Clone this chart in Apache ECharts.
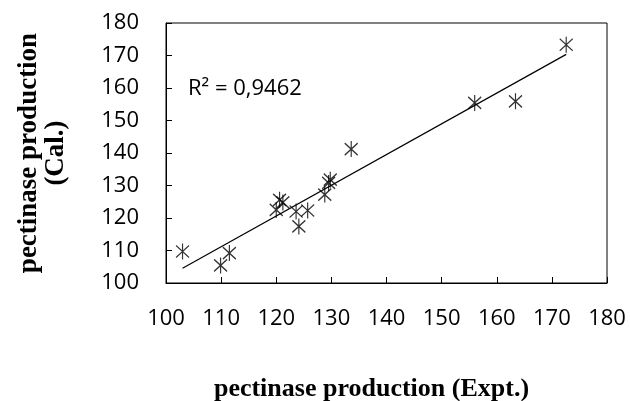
<!DOCTYPE html>
<html>
<head>
<meta charset="utf-8">
<script src="https://cdn.jsdelivr.net/npm/echarts@6/dist/echarts.min.js"></script>
<style>html,body{margin:0;padding:0;background:#fff}#c{width:630px;height:401px}</style>
</head>
<body>
<div id="c"></div>
<script>
// Experimental (x) vs calculated (y) pectinase production
var exptValues = [103.0, 109.9, 111.5, 120.0, 120.6, 121.2, 123.6, 125.7, 124.1, 128.8, 129.8, 129.5, 133.6, 156.0, 163.4, 172.6];
var calValues  = [109.7, 105.4, 109.2, 122.5, 125.6, 124.8, 122.0, 122.3, 117.4, 127.2, 131.8, 130.8, 141.2, 155.4, 155.9, 173.3];
var xTicks = [100, 110, 120, 130, 140, 150, 160, 170, 180];
var yTicks = [100, 110, 120, 130, 140, 150, 160, 170, 180];
var r2Label = 'R² = 0,9462';
var xTitle = 'pectinase production (Expt.)';
var yTitle = 'pectinase production\n(Cal.)';

var points = exptValues.map(function (x, i) { return [x, calValues[i]]; });

// linear least squares trendline
var n = points.length, mx = 0, my = 0;
points.forEach(function (p) { mx += p[0]; my += p[1]; });
mx /= n; my /= n;
var sxy = 0, sxx = 0;
points.forEach(function (p) { sxy += (p[0] - mx) * (p[1] - my); sxx += (p[0] - mx) * (p[0] - mx); });
var slope = sxy / sxx, icpt = my - slope * mx;
var xMin = Math.min.apply(null, exptValues), xMax = Math.max.apply(null, exptValues);
var trend = [[xMin, icpt + slope * xMin], [xMax, icpt + slope * xMax]];

var chart = echarts.init(document.getElementById('c'), null, {renderer: 'canvas'});
var labelFont = {fontFamily: 'Open Sans', fontSize: 22, color: '#000'};
chart.setOption({
  animation: false,
  backgroundColor: '#fff',
  grid: {left: 166, right: 23, top: 23, bottom: 118, outerBoundsMode: 'none', containLabel: false,
         show: true, borderColor: '#000', borderWidth: 1, backgroundColor: 'transparent'},
  title: {
    text: r2Label, left: 183, top: 73,
    textStyle: {fontFamily: 'Open Sans', fontSize: 22, fontWeight: 'normal', color: '#000'}
  },
  xAxis: {
    type: 'value', min: xTicks[0], max: xTicks[xTicks.length - 1], interval: 10,
    name: xTitle, nameLocation: 'middle', nameGap: 93,
    nameTextStyle: {fontFamily: 'Liberation Serif', fontWeight: 'bold', fontSize: 26, color: '#000', padding: [0, 30, 0, 0]},
    axisLine: {show: true, lineStyle: {color: '#000', width: 1}},
    axisTick: {show: true, inside: true, length: 6, lineStyle: {color: '#000'}},
    axisLabel: Object.assign({margin: 25}, labelFont),
    splitLine: {show: false}
  },
  yAxis: {
    type: 'value', min: yTicks[0], max: yTicks[yTicks.length - 1], interval: 10,
    name: yTitle, nameLocation: 'middle', nameGap: 96, nameRotate: 90,
    nameTextStyle: {fontFamily: 'Liberation Serif', fontWeight: 'bold', fontSize: 27, color: '#000', lineHeight: 27, align: 'center'},
    axisLine: {show: true, lineStyle: {color: '#000', width: 1}},
    axisTick: {show: true, inside: true, length: 6, lineStyle: {color: '#000'}},
    axisLabel: Object.assign({margin: 27}, labelFont),
    splitLine: {show: false}
  },
  series: [
    {
      type: 'line', data: trend, showSymbol: false, symbol: 'none',
      lineStyle: {color: '#000', width: 1.2}, z: 2, silent: true
    },
    {
      type: 'scatter', data: points,
      symbol: 'path://M0,2L12,14M12,2L0,14M6,0L6,16',
      symbolSize: [13, 16],
      itemStyle: {color: 'rgba(0,0,0,0)', borderColor: '#000', borderWidth: 1.3},
      z: 3
    }
  ]
});
</script>
</body>
</html>
